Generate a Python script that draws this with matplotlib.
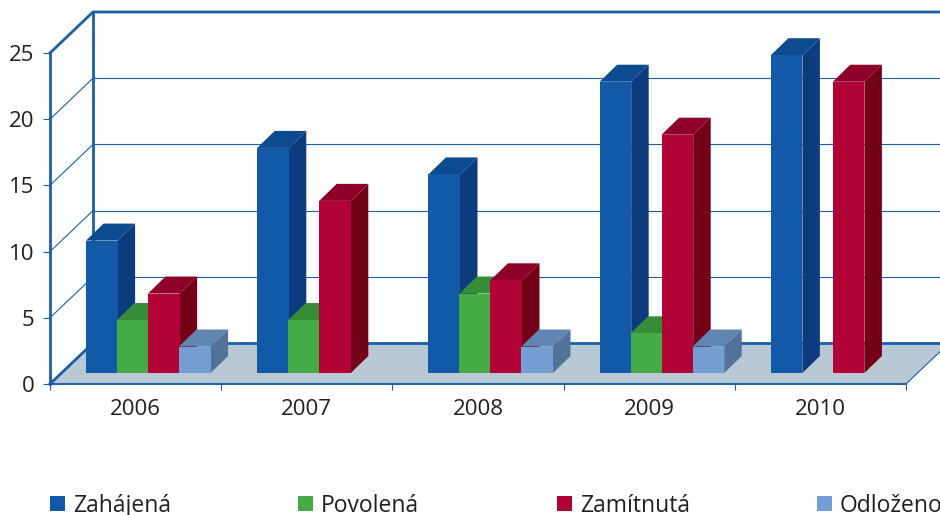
import matplotlib
matplotlib.use('Agg')
import matplotlib.pyplot as plt
from matplotlib.patches import Polygon, Rectangle

plt.rcParams['font.family'] = ['Open Sans', 'DejaVu Sans']

# Data
years = ['2006', '2007', '2008', '2009', '2010']
zahajena = [10, 17, 15, 22, 24]
povolena = [4, 4, 6, 3, 0]
zamitnuta = [6, 13, 7, 18, 22]
odlozeno = [2, 0, 2, 2, 0]
series_names = ['Zahájená', 'Povolená', 'Zamítnutá', 'Odloženo']
y_ticks = [0, 5, 10, 15, 20, 25]

series = [zahajena, povolena, zamitnuta, odlozeno]
# front, top, side
colors = [('#125aa8', '#0e4a90', '#0d3c7e'),
          ('#44ab46', '#358d38', '#2e7a30'),
          ('#b10335', '#8e0029', '#740017'),
          ('#749ed4', '#6085b3', '#527299')]
line_blue = '#1a5fa8'
text_color = '#231f20'

# pixel scale of the plot
px_x = 171.2
px_y = 13.24
fig = plt.figure(figsize=(9.4, 5.15), dpi=100)
ax = fig.add_axes([50 / 940, (515 - 384) / 515, 890 / 940, 331 / 515])
ax.set_xlim(0, 890 / px_x)
ax.set_ylim(0, 25)
ax.patch.set_visible(False)

wall_dx = 43 / px_x
wall_dy = 41 / px_y
bar_dx = 17.5 / px_x
bar_dy = 17 / px_y
bar_base = 11 / px_y
bar_w = 31 / px_x
bar_draw_w = 31.6 / px_x
group_start = 36 / px_x
n = len(years)
x_end = 890 / px_x

# floor
ax.add_patch(Polygon([(0, 0), (n, 0), (n + wall_dx, wall_dy), (wall_dx, wall_dy)],
                     facecolor='#b8c8d4', edgecolor='none', clip_on=False, zorder=1))

# grid on the walls
for v in y_ticks[1:-1]:
    ax.plot([0, wall_dx], [v, v + wall_dy], color=line_blue, lw=0.8, clip_on=False, zorder=1)
    ax.plot([wall_dx, x_end], [v + wall_dy, v + wall_dy], color=line_blue, lw=0.8, clip_on=False, zorder=1)

# frame of the walls
top = y_ticks[-1]
ax.plot([0, wall_dx, x_end], [top, top + wall_dy, top + wall_dy], color=line_blue, lw=2,
        clip_on=False, zorder=2, solid_joinstyle='miter')
ax.plot([wall_dx, wall_dx], [wall_dy, top + wall_dy], color=line_blue, lw=2, clip_on=False, zorder=2)
ax.plot([0, wall_dx], [0, wall_dy], color=line_blue, lw=2, clip_on=False, zorder=2)
ax.plot([wall_dx, n + wall_dx], [wall_dy, wall_dy], color=line_blue, lw=2, clip_on=True, zorder=1.5)
ax.plot([n, n + wall_dx], [0, wall_dy], color=line_blue, lw=0.8, clip_on=True, zorder=1.5)

# bars, left to right so each front covers the side of the one before
z = 3
for g in range(n):
    for s, values in enumerate(series):
        v = values[g]
        if v == 0:
            continue
        x0 = g + group_start + s * bar_w
        x1 = x0 + bar_draw_w
        y0 = bar_base
        y1 = v + bar_base
        front, top_c, side = colors[s]
        ax.bar(x0, v, width=bar_draw_w, bottom=y0, align='edge', color=front, clip_on=False, zorder=z + 0.2)
        ax.add_patch(Polygon([(x0, y1), (x1, y1), (x1 + bar_dx, y1 + bar_dy), (x0 + bar_dx, y1 + bar_dy)],
                             facecolor=top_c, edgecolor='none', clip_on=False, zorder=z))
        ax.add_patch(Polygon([(x1, y0), (x1 + bar_dx, y0 + bar_dy), (x1 + bar_dx, y1 + bar_dy), (x1, y1)],
                             facecolor=side, edgecolor='none', clip_on=False, zorder=z))
        z += 1

# axes
for name in ['top', 'right']:
    ax.spines[name].set_visible(False)
ax.spines['left'].set_color(line_blue)
ax.spines['left'].set_linewidth(2)
ax.spines['bottom'].set_color(line_blue)
ax.spines['bottom'].set_linewidth(1.4)
ax.spines['bottom'].set_bounds(0, n)

ax.set_yticks(y_ticks)
ax.set_xticks(range(n + 1))
ax.set_xticklabels([])
ax.set_xticks([i + 0.5 for i in range(n)], minor=True)
ax.set_xticklabels(years, minor=True)
ax.tick_params(axis='y', length=5, width=0.8, color=line_blue, labelsize=16, labelcolor=text_color, pad=6)
ax.tick_params(axis='x', which='major', length=4, width=0.8, color=line_blue)
ax.tick_params(axis='x', which='minor', length=0, labelsize=16, labelcolor=text_color, pad=11)

# legend
legend_x = [50, 298, 557, 817]
for name, c, lx in zip(series_names, colors, legend_x):
    fig.add_artist(Rectangle((lx / 940, (515 - 511) / 515), 15 / 940, 15 / 515,
                             transform=fig.transFigure, facecolor=c[0], edgecolor='none'))
    fig.text((lx + 23) / 940, (515 - 512) / 515, name, fontsize=16.5, color=text_color,
             ha='left', va='baseline')

plt.savefig('out.png', dpi=100)
